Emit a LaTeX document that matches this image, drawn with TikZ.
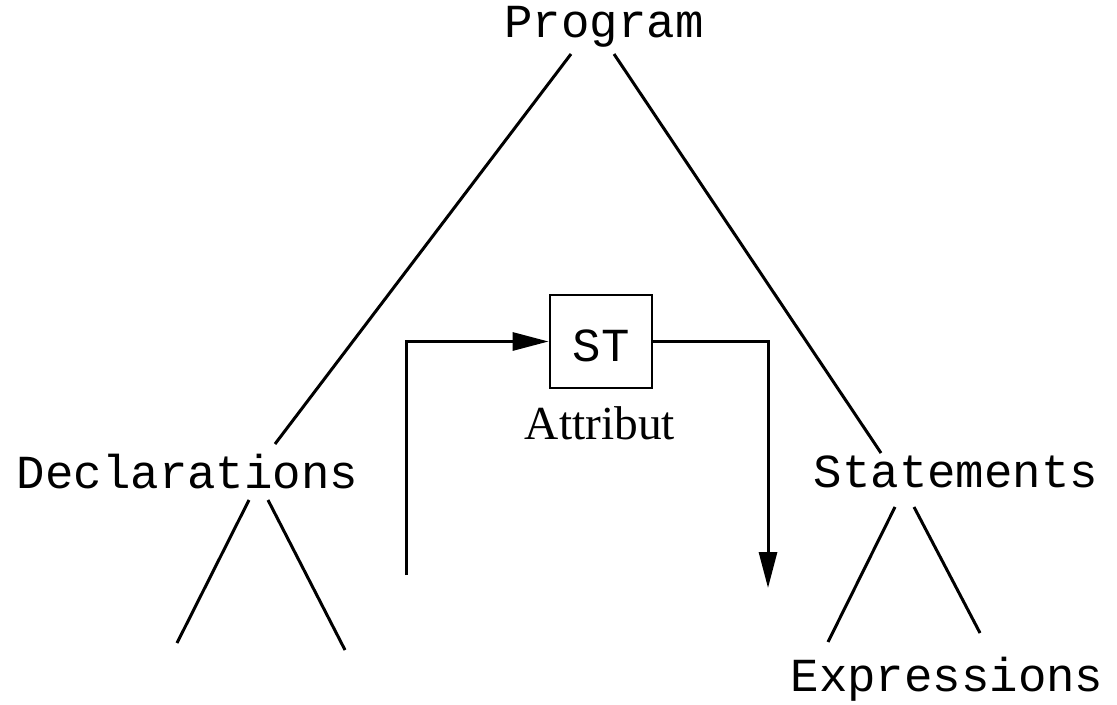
\documentclass[tikz,border=0pt]{standalone}
\usepackage{fontspec}
\setmainfont{Liberation Serif}
\setmonofont{Liberation Mono}
\usepackage{tikz}
\usetikzlibrary{arrows.meta,calc}

\begin{document}
\begin{tikzpicture}[x=0.5pt,y=-0.5pt,
    synt/.style={font=\ttfamily\fontsize{23.7}{28}\selectfont, inner sep=0pt, anchor=base},
    attr/.style={font=\rmfamily\fontsize{23.7}{28}\selectfont, inner sep=0pt, anchor=base},
    tabbox/.style={draw, line width=1.4pt, font=\ttfamily\fontsize{23.7}{28}\selectfont,
        minimum width=51pt, minimum height=46.5pt, inner sep=0pt, text height=20pt, text depth=0pt},
    edge/.style={line width=1.5pt},
    flow/.style={line width=1.5pt, -{Triangle[length=18pt,width=9pt]}}]
\useasboundingbox (0,0) rectangle (1117,705);

% nonterminals of the tree
\node[synt] (prog) at (604,38) {Program};
\node[synt] (decl) at (187.5,488) {Declarations};
\node[synt] (stmt) at (956,487) {Statements};
\node[synt] (expr) at (947,691) {Expressions};

% symbol table as attribute
\node[tabbox] (st) at (601,341.5) {ST};
\node[attr] (att) at (600,439) {Attribut};

% tree edges
\draw[edge] ($(prog.base)+(-33,16)$) -- ($(decl.base)+(87.5,-44)$);
\draw[edge] ($(prog.base)+(10,16)$) -- ($(stmt.base)+(-75,-34)$);

\coordinate (d1) at (177,643);
\coordinate (d2) at (345,650);
\draw[edge] ($(decl.base)+(61.5,12)$) -- (d1);
\draw[edge] ($(decl.base)+(80.5,12)$) -- (d2);

\draw[edge] ($(stmt.base)+(-61,20)$) -- ($(expr.base)+(-119,-49)$);
\draw[edge] ($(stmt.base)+(-42,20)$) -- ($(expr.base)+(33,-58)$);

% attribute flow
\coordinate (fin) at (406,575);
\coordinate (fout) at (768,588);
\draw[flow] (fin) |- (st.west);
\draw[flow] (st.east) -| (fout);
\end{tikzpicture}
\end{document}
